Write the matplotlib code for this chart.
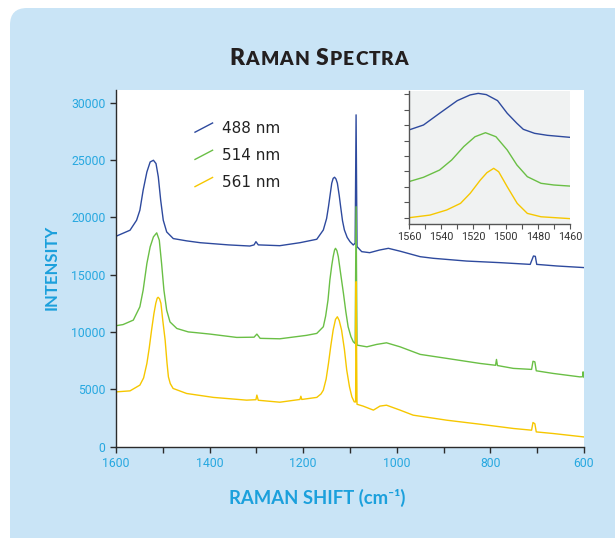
import matplotlib
matplotlib.use("Agg")
import matplotlib.pyplot as plt
from matplotlib.patches import FancyBboxPatch
from matplotlib.lines import Line2D
from matplotlib.legend_handler import HandlerBase

# ---- data ----
blue_x = [1600, 1570, 1556, 1549, 1542, 1534, 1527, 1520, 1514.5, 1509.6, 1504.5, 1499, 1491.7, 1477.6,
          1449, 1420, 1360, 1314, 1305, 1301, 1296, 1250, 1207, 1171, 1157, 1150, 1146, 1142, 1139,
          1136, 1133, 1130, 1127, 1123, 1120, 1116, 1112, 1106, 1100, 1093, 1089, 1087, 1085, 1075,
          1058, 1037, 1018, 993, 950, 922, 851, 779, 715, 708, 704, 701, 658, 600]
blue_y = [18350, 18880, 19750, 20620, 22370, 23960, 24830, 24980, 24690, 23530, 21490, 19750, 18730,
          18150, 17950, 17790, 17600, 17500, 17600, 17880, 17600, 17530, 17790, 18090, 18900, 19900,
          20930, 22100, 22980, 23400, 23500, 23350, 22980, 21900, 20930, 19700, 18900, 18250, 17880,
          17590, 17750, 28940, 17450, 17010, 16920, 17150, 17300, 17050, 16570, 16430, 16190, 16050,
          15900, 16630, 16600, 15900, 15760, 15620]

green_x = [1600, 1585, 1563, 1549, 1542, 1534, 1527, 1520, 1513, 1507.5, 1502.6, 1497.6, 1491.7, 1484.6,
           1470, 1445.5, 1430, 1399, 1342, 1305, 1299, 1292, 1250, 1193, 1171, 1157, 1152, 1147, 1143,
           1139, 1136, 1133, 1131, 1128, 1125, 1120, 1114, 1109, 1104, 1098, 1093, 1089, 1087, 1085,
           1064, 1043, 1022, 993, 965, 950, 893, 822, 789, 787, 785, 751, 712, 709, 705, 702, 666,
           609, 603, 602, 600]
green_y = [10550, 10650, 11040, 12200, 13650, 15980, 17430, 18300, 18650, 18010, 15980, 13650, 11900,
           10880, 10310, 10010, 9950, 9820, 9530, 9550, 9820, 9450, 9410, 9710, 9880, 10460, 11400,
           12790, 14540, 15800, 16570, 17150, 17300, 17100, 16570, 15100, 13370, 11800, 10460, 9600,
           9150, 9000, 20930, 8860, 8710, 8920, 9060, 8710, 8280, 8050, 7700, 7260, 7100, 7610, 7080,
           6830, 6740, 7450, 7400, 6620, 6390, 6090, 6100, 6530, 6050]

yellow_x = [1600, 1570, 1549, 1541, 1534, 1529, 1524, 1519, 1515, 1512, 1510, 1507, 1504, 1500, 1495,
            1491, 1488, 1484, 1478, 1449, 1392, 1321, 1301, 1299, 1296, 1250, 1207, 1205, 1203, 1171,
            1162, 1157, 1151, 1146, 1141, 1136, 1131, 1127, 1123, 1118, 1112, 1107, 1101, 1096, 1091,
            1088, 1087, 1085, 1072, 1050, 1036, 1022, 993, 965, 893, 822, 751, 712, 709, 705, 702,
            666, 600]
yellow_y = [4780, 4870, 5370, 6000, 7260, 8600, 10170, 11600, 12500, 12950, 13030, 12900, 12500, 11000,
            9300, 7300, 6090, 5500, 5080, 4640, 4300, 4060, 4100, 4500, 4050, 3880, 4120, 4400, 4120,
            4300, 4600, 4930, 5900, 7260, 8800, 10170, 11100, 11330, 11000, 10170, 8500, 6680, 5200,
            4350, 3910, 3900, 14390, 3700, 3540, 3190, 3540, 3620, 3190, 2750, 2310, 1960, 1590, 1440,
            2110, 2000, 1290, 1150, 850]

# inset (zoom on the 1510 band, arbitrary units)
in_blue_x = [1560, 1551, 1541, 1530, 1522, 1517, 1512, 1505, 1499, 1493, 1489, 1482, 1474, 1460]
in_blue_y = [5.69, 6.01, 6.77, 7.59, 7.96, 8.06, 7.98, 7.59, 6.77, 6.12, 5.73, 5.47, 5.34, 5.21]
in_green_x = [1560, 1551, 1541, 1533.5, 1526, 1519, 1512.5, 1506, 1499, 1493, 1486.5, 1478, 1470, 1460]
in_green_y = [2.34, 2.62, 3.09, 3.74, 4.61, 5.25, 5.51, 5.25, 4.39, 3.42, 2.66, 2.23, 2.12, 2.05]
in_yellow_x = [1560, 1547, 1536.6, 1528, 1522, 1515.7, 1511.6, 1507.4, 1504.3, 1499, 1492.8, 1486.5, 1478, 1460]
in_yellow_y = [0.0, 0.17, 0.50, 0.93, 1.58, 2.44, 2.92, 3.20, 2.98, 2.01, 0.93, 0.28, 0.06, -0.06]

labels = ["488 nm", "514 nm", "561 nm"]
colors = ["#2e4a9e", "#6abf45", "#f6c700"]

x_ticks = list(range(1600, 599, -100))
x_ticklabels = [str(t) if t % 200 == 0 else "" for t in x_ticks]
y_ticks = list(range(0, 30001, 5000))
in_x_ticks = list(range(1560, 1459, -10))
in_x_ticklabels = [str(t) if t % 20 == 0 else "" for t in in_x_ticks]

W, H = 615, 538
fig = plt.figure(figsize=(W / 100, H / 100), dpi=100)
fig.patch.set_facecolor("white")

panel = FancyBboxPatch((0.10, -0.3), 6.5, 5.38 - 0.08 + 0.3,
                       boxstyle="round,pad=0,rounding_size=0.17",
                       transform=fig.dpi_scale_trans, facecolor="#c9e4f6", edgecolor="none", zorder=0)
fig.add_artist(panel)

tick_font = ["Roboto", "DejaVu Sans"]
cyan = "#27a8e0"
dark = "#2b2b2b"

# ---- main axes ----
ax = fig.add_axes([116 / W, 1 - 446.7 / H, 468 / W, (446.7 - 90) / H])
ax.set_facecolor("white")
for xs, ys, c, lab in zip([blue_x, green_x, yellow_x], [blue_y, green_y, yellow_y], colors, labels):
    ax.plot(xs, ys, color=c, lw=1.0, label=lab)
ax.set_xlim(1600, 600)
ax.set_ylim(0, 31107)
for s in ["top", "right"]:
    ax.spines[s].set_visible(False)
for s in ["left", "bottom"]:
    ax.spines[s].set_color(dark)
    ax.spines[s].set_linewidth(1.0)
ax.set_xticks(x_ticks)
ax.set_xticklabels(x_ticklabels)
ax.set_yticks(y_ticks)
ax.tick_params(direction="out", length=4.3, width=1, color=dark, labelcolor=cyan, labelsize=8.8, pad=3.3)
for t in ax.get_xticklabels() + ax.get_yticklabels():
    t.set_family(tick_font)


class DiagHandler(HandlerBase):
    def create_artists(self, legend, orig_handle, xdescent, ydescent, width, height, fontsize, trans):
        ln = Line2D([-xdescent, -xdescent + width], [-ydescent, -ydescent + height],
                    color=orig_handle.get_color(), lw=orig_handle.get_linewidth())
        ln.set_transform(trans)
        return [ln]


handles = ax.get_lines()
leg = ax.legend(handles, labels, handler_map={Line2D: DiagHandler()}, frameon=False,
                loc="upper left", bbox_to_anchor=(195 / W, 1 - 121 / H), bbox_transform=fig.transFigure,
                borderpad=0, borderaxespad=0, fontsize=11, handlelength=1.15, handleheight=0.55,
                handletextpad=0.65, labelspacing=0.8)
for t in leg.get_texts():
    t.set_color("#222222")

# ---- inset ----
ins = fig.add_axes([409 / W, 1 - 224 / H, 161 / W, 133 / H])
ins.set_facecolor("#f0f2f2")
ins.plot(in_blue_x, in_blue_y, color=colors[0], lw=1.0)
ins.plot(in_green_x, in_green_y, color=colors[1], lw=1.0)
ins.plot(in_yellow_x, in_yellow_y, color=colors[2], lw=1.0)
ins.set_xlim(1560, 1460)
ins.set_ylim(-0.408, 8.214)
for s in ["top", "right"]:
    ins.spines[s].set_visible(False)
for s in ["left", "bottom"]:
    ins.spines[s].set_color("#555555")
    ins.spines[s].set_linewidth(1.0)
ins.set_xticks(in_x_ticks)
ins.set_xticklabels(in_x_ticklabels)
ins.set_yticks(range(0, 9))
ins.set_yticklabels([])
ins.tick_params(direction="out", length=3.5, width=0.8, color="#555555", labelcolor="#333333",
                labelsize=7.8, pad=2.5)
for t in ins.get_xticklabels():
    t.set_family(tick_font)

# ---- axis labels ----
fig.text(52 / W, 1 - 267 / H, "INTENSITY", rotation=90, ha="center", va="center",
         family=["Lato", "DejaVu Sans"], fontweight="bold", fontsize=12, color="#1ba0dc")
fig.text(317 / W, 1 - 498 / H, "RAMAN SHIFT (cm\u207b\u00b9)", ha="center", va="center",
         family=["Lato", "DejaVu Sans"], fontweight="bold", fontsize=13.3, color="#1ba0dc")

# ---- small-caps title, placed letter by letter ----
renderer = fig.canvas.get_renderer()
title = "RAMAN SPECTRA"
big = {0, 6}
pieces = []
x = 0.0
for i, ch in enumerate(title):
    if ch == " ":
        x += 6
        continue
    size = 16.5 if i in big else 13.8
    t = fig.text(0, 1 - 65 / H, ch, fontsize=size, fontweight="heavy", family=["Lato", "DejaVu Sans"],
                 color="#231f20", ha="left", va="baseline")
    w = t.get_window_extent(renderer).width
    pieces.append((t, x))
    x += w + 1.0
x -= 1.0
x0 = 319 - x / 2
for t, off in pieces:
    t.set_x((x0 + off) / W)

fig.savefig("out.png", dpi=100)
